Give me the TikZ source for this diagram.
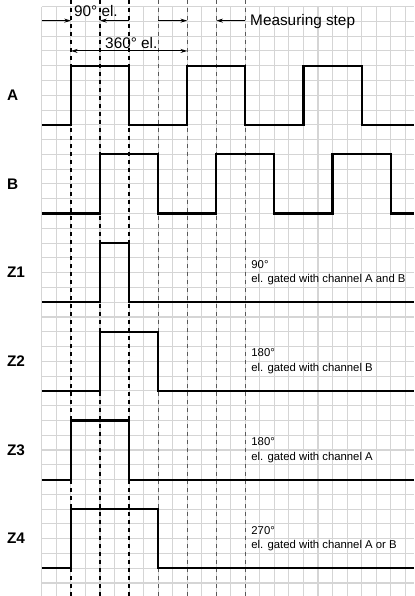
\documentclass[tikz,border=0pt]{standalone}
\usepackage{fontspec}
\setmainfont{Liberation Sans}
\usetikzlibrary{arrows.meta}

\begin{document}
\begin{tikzpicture}[line join=miter, x=10.8975pt, y=-11.085pt,
        gridline/.style={gray!33, line width=0.8pt},
        marker/.style={line width=0.9pt, dash pattern=on 3pt off 3pt},
        signal/.style={line width=1.6pt},
        dimline/.style={line width=0.7pt},
        tip/.style={-{Stealth[length=5pt,width=3pt]}},
        chan/.style={font=\bfseries\fontsize{11.5}{13}\selectfont, anchor=west, inner sep=0pt},
        note/.style={font=\fontsize{8.5}{11}\selectfont, align=left, anchor=west, inner sep=0pt},
        toptext/.style={font=\fontsize{11.5}{13}\selectfont, anchor=base west, inner sep=0pt}]

        \useasboundingbox (-2.884,-0.447) rectangle (25.61,39.878);

        % grid
        \foreach \i in {0,...,25} \draw[gridline] (\i,0) -- (\i,39.878);
        \foreach \j in {0,...,39} \draw[gridline] (0,\j) -- (25.61,\j);

        % 90 degree markers
        \foreach \i in {2,4,6} \draw[marker] (\i,-0.447) -- (\i,39.878);
        \foreach \i in {8,10,12,14} \draw[marker, black!65] (\i,-0.447) -- (\i,39.878);

        % arrows on top
        \coordinate (m0) at (0,0.95);
        \coordinate (m2) at (2,0.95);
        \coordinate (m4) at (4,0.95);
        \coordinate (m6) at (6,0.95);
        \coordinate (m8) at (8,0.95);
        \coordinate (m10) at (10,0.95);
        \coordinate (m12) at (12,0.95);
        \coordinate (m14) at (14,0.95);
        \coordinate (p2) at (2,3);
        \coordinate (p10) at (10,3);

        \draw[dimline,tip] (m0) -- (m2);
        \draw[dimline,tip] (m6) -- (m4);
        \draw[dimline,tip] (m8) -- (m10);
        \draw[dimline,tip] (m14) -- (m12);
        \draw[dimline,{Stealth[length=5pt,width=3pt]}-{Stealth[length=5pt,width=3pt]}] (p2) -- (p10);

        \node[toptext] (t90) at (2.2,0.7) {90°~el.};
        \node[toptext] (t360) at (4.34,2.83) {360°~el.};
        \node[toptext] (tstep) at (14.32,1.25) {Measuring step};

        % channels
        \node[chan] (lA) at (-2.42,6) {A};
        \node[chan] (lB) at (-2.42,12) {B};
        \node[chan] (lZ1) at (-2.42,18) {Z1};
        \node[chan] (lZ2) at (-2.42,24) {Z2};
        \node[chan] (lZ3) at (-2.42,30) {Z3};
        \node[chan] (lZ4) at (-2.42,36) {Z4};

        \draw[signal] (0,8) -- (2,8) -- (2,4) -- (6,4) -- (6,8) -- (10,8) -- (10,4) -- (14,4) -- (14,8)
            -- (18,8) -- (18,4) -- (22,4) -- (22,8) -- (25.61,8);
        \draw[signal] (0,14) -- (4,14) -- (4,10) -- (8,10) -- (8,14) -- (12,14) -- (12,10) -- (16,10) -- (16,14)
            -- (20,14) -- (20,10) -- (24,10) -- (24,14) -- (25.61,14);
        \draw[signal] (0,20) -- (4,20) -- (4,16) -- (6,16) -- (6,20) -- (25.61,20);
        \draw[signal] (0,26) -- (4,26) -- (4,22) -- (8,22) -- (8,26) -- (25.61,26);
        \draw[signal] (0,32) -- (2,32) -- (2,28) -- (6,28) -- (6,32) -- (25.61,32);
        \draw[signal] (0,38) -- (2,38) -- (2,34) -- (8,34) -- (8,38) -- (25.61,38);

        % gating notes
        \node[note] (nZ1) at (14.4,18) {90°\\el. gated with channel A and B};
        \node[note] (nZ2) at (14.4,24) {180°\\el. gated with channel B};
        \node[note] (nZ3) at (14.4,30) {180°\\el. gated with channel A};
        \node[note] (nZ4) at (14.4,36) {270°\\el. gated with channel A or B};

    \end{tikzpicture}
\end{document}
